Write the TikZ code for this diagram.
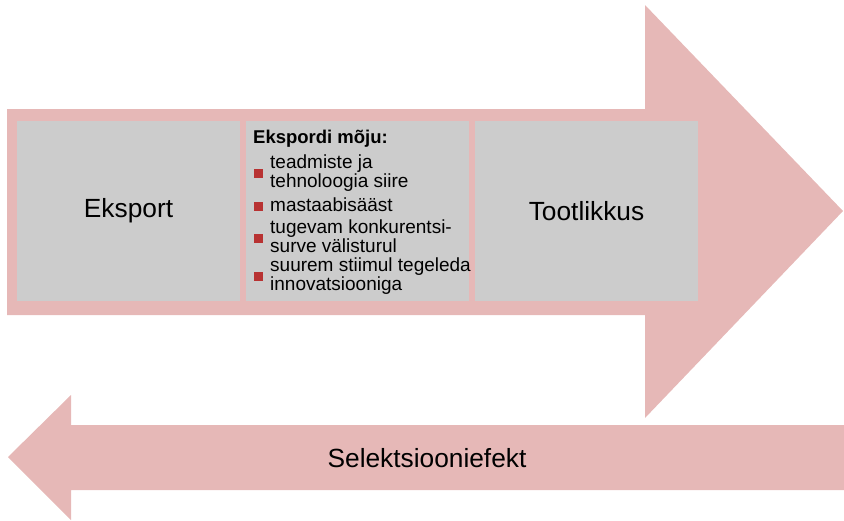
\documentclass[tikz,border=0pt]{standalone}
\usepackage{fontspec}
\setmainfont{Liberation Sans}
\definecolor{arrowpink}{HTML}{E6B8B7}
\definecolor{boxgrey}{HTML}{CCCCCC}
\definecolor{bulletred}{HTML}{B83232}
\begin{document}
\begin{tikzpicture}[x=1pt,y=-1pt,
  greybox/.style={fill=boxgrey,draw=none,minimum width=223pt,minimum height=180pt,inner sep=0pt},
  bigtext/.style={font=\fontsize{26.3}{30}\selectfont},
  itemtext/.style={font=\fontsize{19}{16.5}\selectfont,align=left,anchor=west,inner sep=0pt},
  bulletsq/.style={fill=bulletred,draw=none,minimum size=9pt,inner sep=0pt}]
\useasboundingbox (0,0) rectangle (844,520);
% top arrow
\fill[arrowpink] (7,109) -- (645,109) -- (645,5) -- (843,211) -- (645,418) -- (645,315) -- (7,315) -- cycle;
% bottom arrow
\fill[arrowpink] (844,425) -- (71,425) -- (71,395) -- (8,457) -- (71,520) -- (71,490) -- (844,490) -- cycle;
% boxes
\node[greybox,bigtext] (eks) at (128.5,211) {Eksport};
\node[greybox] (mid) at (357.5,211) {};
\node[greybox,bigtext] (too) at (586.5,211) {Tootlikkus};
% middle content
\node[font=\bfseries\fontsize{18.5}{20}\selectfont,anchor=west,inner sep=0pt] (title) at (253,139) {Ekspordi mõju:};
\node[bulletsq] (b1) at (258,173) {};
\node[itemtext] (t1) at (270,173) {teadmiste ja\\tehnoloogia siire};
\node[bulletsq] (b2) at (258,206) {};
\node[itemtext] (t2) at (270,205) {mastaabisääst};
\node[bulletsq] (b3) at (258,238) {};
\node[itemtext] (t3) at (270,236) {tugevam konkurentsi-\\surve välisturul};
\node[bulletsq] (b4) at (258,276) {};
\node[itemtext] (t4) at (270,276) {suurem stiimul tegeleda\\innovatsiooniga};
% bottom label
\node[bigtext] (sel) at (427,458) {Selektsiooniefekt};
\end{tikzpicture}
\end{document}
